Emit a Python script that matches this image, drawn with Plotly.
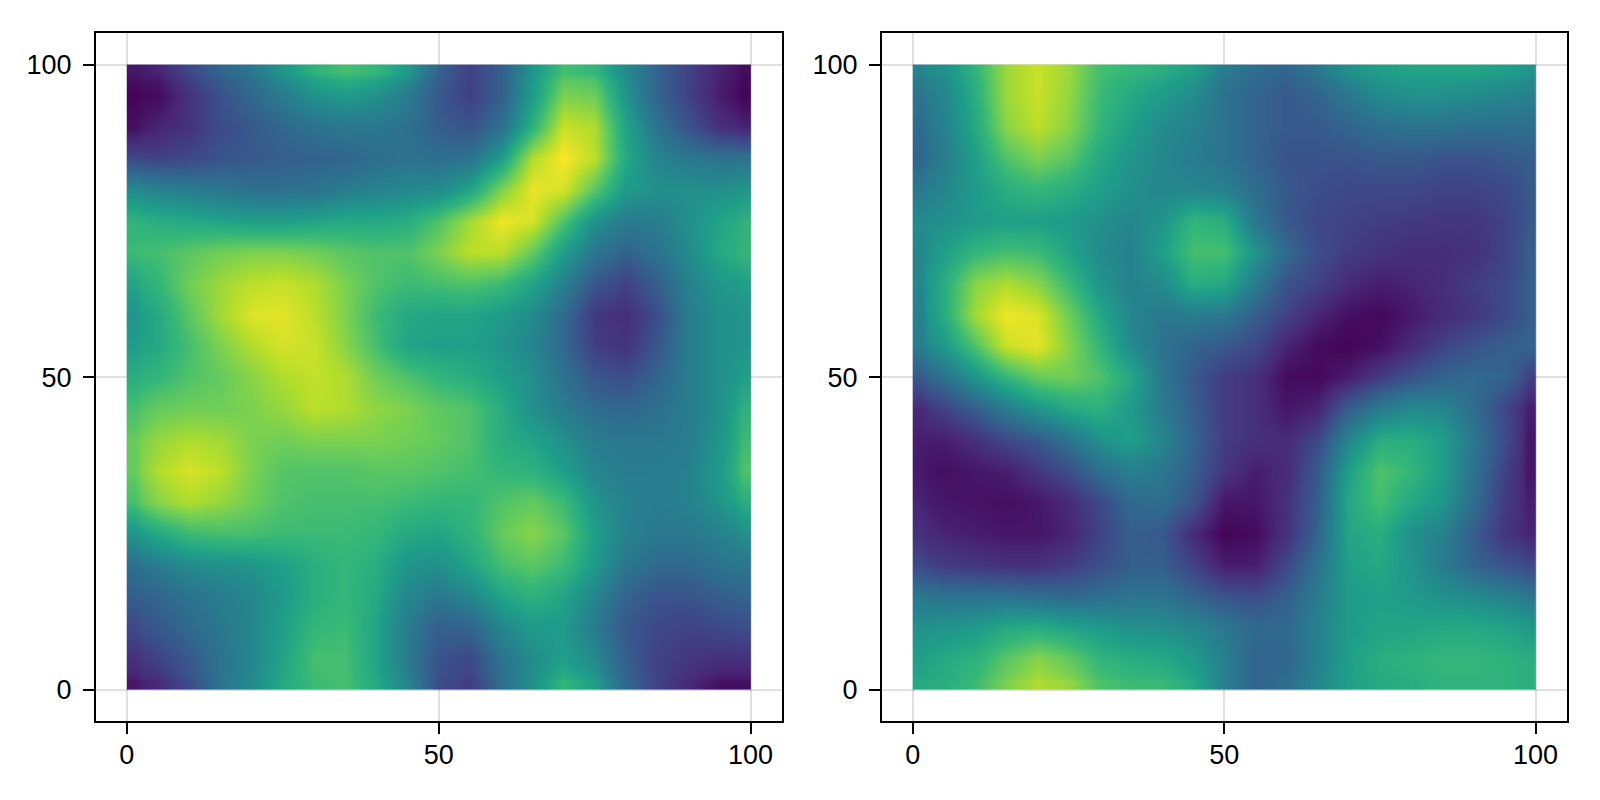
import plotly.graph_objects as go

grid_positions = list(range(0, 105, 5))
tick_values = [0, 50, 100]

# Rows run from y=100 (first) down to y=0 (last); columns x=0..100 step 5.
left_rows = [
    [6,10,22,32,40,52,64,70,66,54,32,20,30,52,70,66,48,32,20,10,3],
    [1,3,15,25,33,42,50,54,50,42,28,19,30,55,80,78,52,32,20,8,1],
    [4,10,15,23,28,33,38,40,40,37,30,26,37,64,92,88,58,38,26,14,10],
    [22,20,22,26,28,30,31,32,36,38,36,38,55,88,100,90,60,45,40,38,38],
    [48,45,42,40,37,37,38,42,45,47,48,58,80,97,94,74,54,50,50,50,52],
    [65,62,60,58,56,56,58,60,60,62,72,86,98,94,72,50,42,42,50,58,64],
    [68,70,74,78,80,80,78,74,72,72,80,90,90,76,55,40,31,38,48,60,66],
    [58,66,78,85,90,92,88,80,72,68,70,72,68,58,44,27,20,30,44,52,56],
    [52,60,74,86,95,96,90,80,68,60,58,58,54,48,35,17,13,24,42,50,52],
    [55,60,70,80,88,94,92,82,70,58,56,56,52,46,34,19,15,27,42,50,52],
    [62,66,72,76,82,88,91,88,78,72,66,62,56,50,38,27,24,32,42,50,56],
    [70,76,78,78,80,84,90,88,83,80,75,72,62,50,42,35,33,37,42,50,64],
    [76,84,88,86,80,78,80,80,80,78,76,72,62,58,50,42,40,40,42,52,68],
    [76,88,94,90,80,73,72,72,74,74,72,70,66,64,56,46,42,42,44,54,72],
    [70,82,88,84,78,72,70,70,70,68,66,66,72,76,68,52,44,42,44,52,62],
    [52,60,68,70,70,68,68,68,66,60,58,64,76,82,74,56,44,40,40,44,50],
    [36,42,48,50,52,56,62,66,62,52,50,58,70,74,68,54,40,34,34,38,40],
    [30,32,38,42,46,54,62,66,60,46,40,46,58,64,58,46,32,26,26,30,32],
    [22,28,34,40,46,56,66,68,58,42,30,32,46,54,54,42,28,22,20,22,24],
    [14,20,28,38,46,58,70,70,58,42,26,22,38,48,56,48,30,20,16,14,14],
    [6,12,24,38,48,60,68,70,60,46,24,18,36,50,66,56,34,20,12,4,4],
]

right_rows = [
    [45,50,65,85,92,85,70,66,62,56,42,36,32,40,50,56,58,58,58,56,52],
    [38,46,62,85,92,84,68,60,54,48,38,32,28,32,40,48,50,50,48,46,44],
    [34,44,60,82,90,82,66,56,48,44,38,32,28,28,32,36,38,38,36,36,36],
    [32,42,56,72,80,74,60,52,46,42,38,32,26,26,26,28,28,26,26,28,30],
    [40,46,54,62,66,62,56,50,46,46,44,36,28,24,22,22,22,20,20,22,28],
    [48,50,54,56,56,54,50,46,52,66,62,40,28,22,20,18,17,16,16,20,28],
    [46,56,66,70,68,58,48,44,56,70,70,52,34,24,18,15,13,13,14,20,30],
    [46,62,82,88,82,68,52,44,48,62,60,42,26,20,12,8,10,13,18,22,30],
    [44,62,86,98,95,78,60,46,40,42,40,30,20,10,4,2,7,12,16,22,30],
    [42,54,72,92,96,82,66,48,38,32,28,22,10,3,1,4,12,20,26,30,32],
    [28,38,52,66,76,78,72,60,40,28,18,14,3,2,8,18,26,32,34,32,20],
    [12,20,30,42,52,60,64,54,42,30,18,14,6,10,30,42,48,46,36,22,8],
    [8,8,14,22,28,38,50,56,46,32,18,14,12,22,46,62,62,56,40,24,6],
    [7,4,6,8,16,24,36,44,40,30,16,8,12,28,56,72,66,56,38,20,6],
    [10,6,5,4,6,12,22,34,36,26,6,6,14,30,60,70,60,52,36,18,8],
    [14,10,8,6,6,10,20,30,28,12,1,3,14,32,58,62,50,44,30,16,10],
    [22,18,16,14,14,18,24,30,30,20,8,8,22,38,56,60,52,42,32,26,22],
    [40,38,38,38,36,34,36,38,38,32,26,24,30,42,54,56,54,50,48,44,40],
    [50,52,54,60,62,58,54,50,50,46,40,34,34,44,54,58,58,60,60,58,54],
    [56,60,64,74,82,76,66,62,60,54,44,32,32,44,56,62,64,66,66,64,62],
    [60,62,68,80,88,84,72,68,68,60,44,32,36,46,56,60,62,64,64,64,62],
]

# Cell edges: halfway between sample positions, clipped to the 0..100 extent
edges = [0] + [(a + b) / 2 for a, b in zip(grid_positions, grid_positions[1:])] + [100]

# The page has an 8px body margin, so the figure is 16px smaller than the window
# and plot-box pixel positions are given relative to the figure.
OFF = 8
W, H = 1600 - 2 * OFF, 800 - 2 * OFF
LEFT_BOX = (96 - OFF, 782 - OFF)
RIGHT_BOX = (882 - OFF, 1567 - OFF)
Y_BOX = (33 - OFF, 721 - OFF)

fig = go.Figure()
for rows, xa, ya in [(left_rows, "x", "y"), (right_rows, "x2", "y2")]:
    fig.add_trace(go.Heatmap(
        z=rows[::-1], x=edges, y=edges, xaxis=xa, yaxis=ya,
        colorscale="Viridis", zmin=0, zmax=100, zsmooth="best",
        showscale=False, hoverinfo="skip",
    ))

axis_style = dict(
    range=[-4.95, 105.05], tickmode="array", tickvals=tick_values,
    ticktext=[str(v) for v in tick_values],
    ticks="outside", ticklen=11, tickwidth=2, tickcolor="black",
    showline=True, mirror=True, linecolor="black", linewidth=2,
    showgrid=True, gridcolor="rgba(0,0,0,0.12)", gridwidth=2,
    zeroline=False,
    tickfont=dict(family="Liberation Sans", size=27, color="black"),
)
ydom = [1 - Y_BOX[1] / H, 1 - Y_BOX[0] / H]
fig.update_layout(
    width=W, height=H, autosize=False,
    margin=dict(l=0, r=0, t=0, b=0),
    paper_bgcolor="white", plot_bgcolor="white", showlegend=False,
    xaxis=dict(domain=[LEFT_BOX[0] / W, LEFT_BOX[1] / W], anchor="y", ticklabelstandoff=-2, **axis_style),
    yaxis=dict(domain=ydom, anchor="x", ticklabelstandoff=6, **axis_style),
    xaxis2=dict(domain=[RIGHT_BOX[0] / W, RIGHT_BOX[1] / W], anchor="y2", ticklabelstandoff=-2, **axis_style),
    yaxis2=dict(domain=ydom, anchor="x2", ticklabelstandoff=6, **axis_style),
)
fig.write_html("out.html", config={"displayModeBar": False})
